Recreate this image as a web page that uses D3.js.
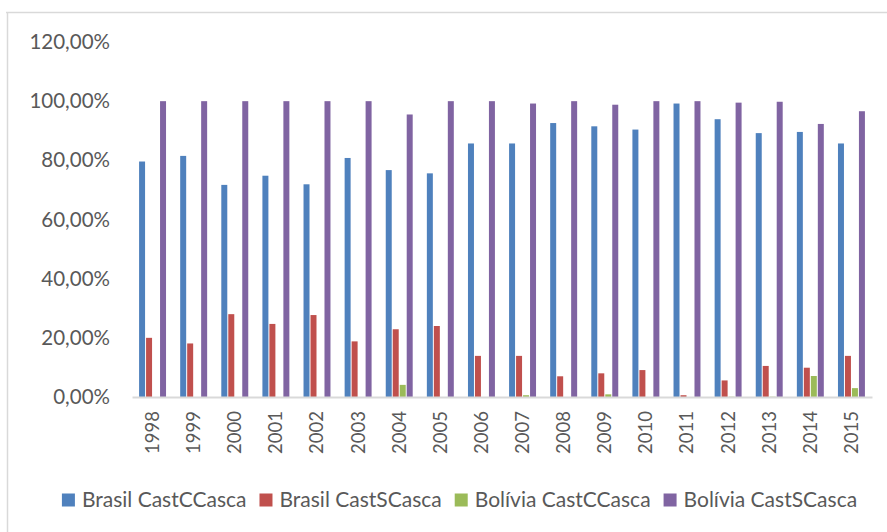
<!DOCTYPE html>
<html>
<head>
<meta charset="utf-8">
<script src="https://cdn.jsdelivr.net/npm/d3@7"></script>
<style>
  body { margin: 0; background: #fff; }
  text { font-family: Lato, "Open Sans", sans-serif; fill: #595959; }
</style>
</head>
<body>
<div id="chart"></div>
<script>
// anos e valores
var years = ["1998","1999","2000","2001","2002","2003","2004","2005","2006","2007","2008","2009","2010","2011","2012","2013","2014","2015"];
var seriesNames = ["Brasil CastCCasca", "Brasil CastSCasca", "Bolívia CastCCasca", "Bolívia CastSCasca"];
var brasilCC = [79.6, 81.5, 71.7, 74.8, 71.9, 80.8, 76.7, 75.6, 85.7, 85.7, 92.6, 91.5, 90.4, 99.2, 93.9, 89.2, 89.6, 85.7];
var brasilSC = [20.0, 18.1, 28.0, 24.7, 27.7, 18.8, 22.9, 24.0, 13.9, 13.9, 7.0, 8.0, 9.1, 0.6, 5.6, 10.5, 9.9, 13.9];
var boliviaCC = [0, 0, 0, 0, 0, 0, 4.1, 0, 0, 0.6, 0, 0.9, 0, 0, 0.1, 0.1, 7.1, 3.0];
var boliviaSC = [100, 100, 100, 100, 100, 100, 95.5, 100, 100, 99.2, 100, 98.8, 100, 100, 99.5, 99.8, 92.3, 96.6];
var yTicks = [0, 20, 40, 60, 80, 100, 120];
var colors = ["#4f81bd", "#c0504d", "#9bbb59", "#8064a2"];

var width = 887, height = 532;
var allSeries = [brasilCC, brasilSC, boliviaCC, boliviaSC];

var data = years.map(function(y, i) {
  return { year: y, values: allSeries.map(function(s, k) { return { key: seriesNames[k], value: s[i] }; }) };
});

var svg = d3.select("#chart").append("svg")
  .attr("width", width)
  .attr("height", height);

// moldura (so topo e esquerda aparecem)
svg.append("line").attr("x1", 6).attr("x2", width).attr("y1", 12.5).attr("y2", 12.5)
  .attr("stroke", "#d9d9d9").attr("stroke-width", 1.5);
svg.append("line").attr("x1", 7.5).attr("x2", 7.5).attr("y1", 12).attr("y2", height)
  .attr("stroke", "#d9d9d9").attr("stroke-width", 1.5);

var x = d3.scaleBand()
  .domain(years)
  .range([132, 872])
  .paddingInner(0.32)
  .paddingOuter(0.16);

var x1 = d3.scaleBand()
  .domain(seriesNames)
  .range([0, x.bandwidth()]);

var y = d3.scaleLinear()
  .domain([0, 120])
  .range([397, 42]);

var color = d3.scaleOrdinal().domain(seriesNames).range(colors);

// eixo y (so texto)
var yAxis = d3.axisLeft(y)
  .tickValues(yTicks)
  .tickSize(0)
  .tickPadding(0)
  .tickFormat(function(d) { return d.toFixed(2).replace(".", ",") + "%"; });

var yG = svg.append("g")
  .attr("transform", "translate(110,0)")
  .call(yAxis);
yG.select(".domain").remove();
yG.selectAll("text")
  .style("font-size", "20.5px")
  .attr("fill", "#595959");

// barras
var groups = svg.selectAll(".ano")
  .data(data)
  .enter()
  .append("g")
  .attr("class", "ano")
  .attr("transform", function(d) { return "translate(" + x(d.year) + ",0)"; });

groups.selectAll("rect")
  .data(function(d) { return d.values; })
  .enter()
  .append("rect")
  .attr("x", function(d) { return x1(d.key) + 0.5; })
  .attr("width", x1.bandwidth() - 1)
  .attr("y", function(d) { return y(d.value); })
  .attr("height", function(d) { return y(0) - y(d.value); })
  .attr("fill", function(d) { return color(d.key); });

// eixo x
var xAxis = d3.axisBottom(x).tickSize(0).tickPadding(0);
var xG = svg.append("g")
  .attr("transform", "translate(0," + y(0) + ")")
  .call(xAxis);
xG.select(".domain").attr("stroke", "#d9d9d9").attr("stroke-width", 2);
xG.selectAll("text")
  .style("font-size", "18.5px")
  .attr("fill", "#595959")
  .attr("transform", "rotate(-90)")
  .attr("x", -14)
  .attr("y", 0)
  .attr("dy", "0.35em")
  .style("text-anchor", "end");

// legenda
var legend = svg.append("g").attr("class", "legend");
var items = legend.selectAll("g")
  .data(seriesNames)
  .enter()
  .append("g");
items.append("rect")
  .attr("width", 13)
  .attr("height", 13)
  .attr("y", -6.5)
  .attr("fill", function(d) { return color(d); });
items.append("text")
  .attr("x", 20)
  .attr("dy", "0.35em")
  .style("font-size", "21px")
  .text(function(d) { return d; });

var pos = 0;
items.each(function() {
  var w = d3.select(this).select("text").node().getComputedTextLength();
  d3.select(this).attr("transform", "translate(" + pos + ",0)");
  pos += 20 + w + 13;
});
var total = pos - 13;
legend.attr("transform", "translate(" + (459.5 - total / 2) + ",500)");
</script>
</body>
</html>
